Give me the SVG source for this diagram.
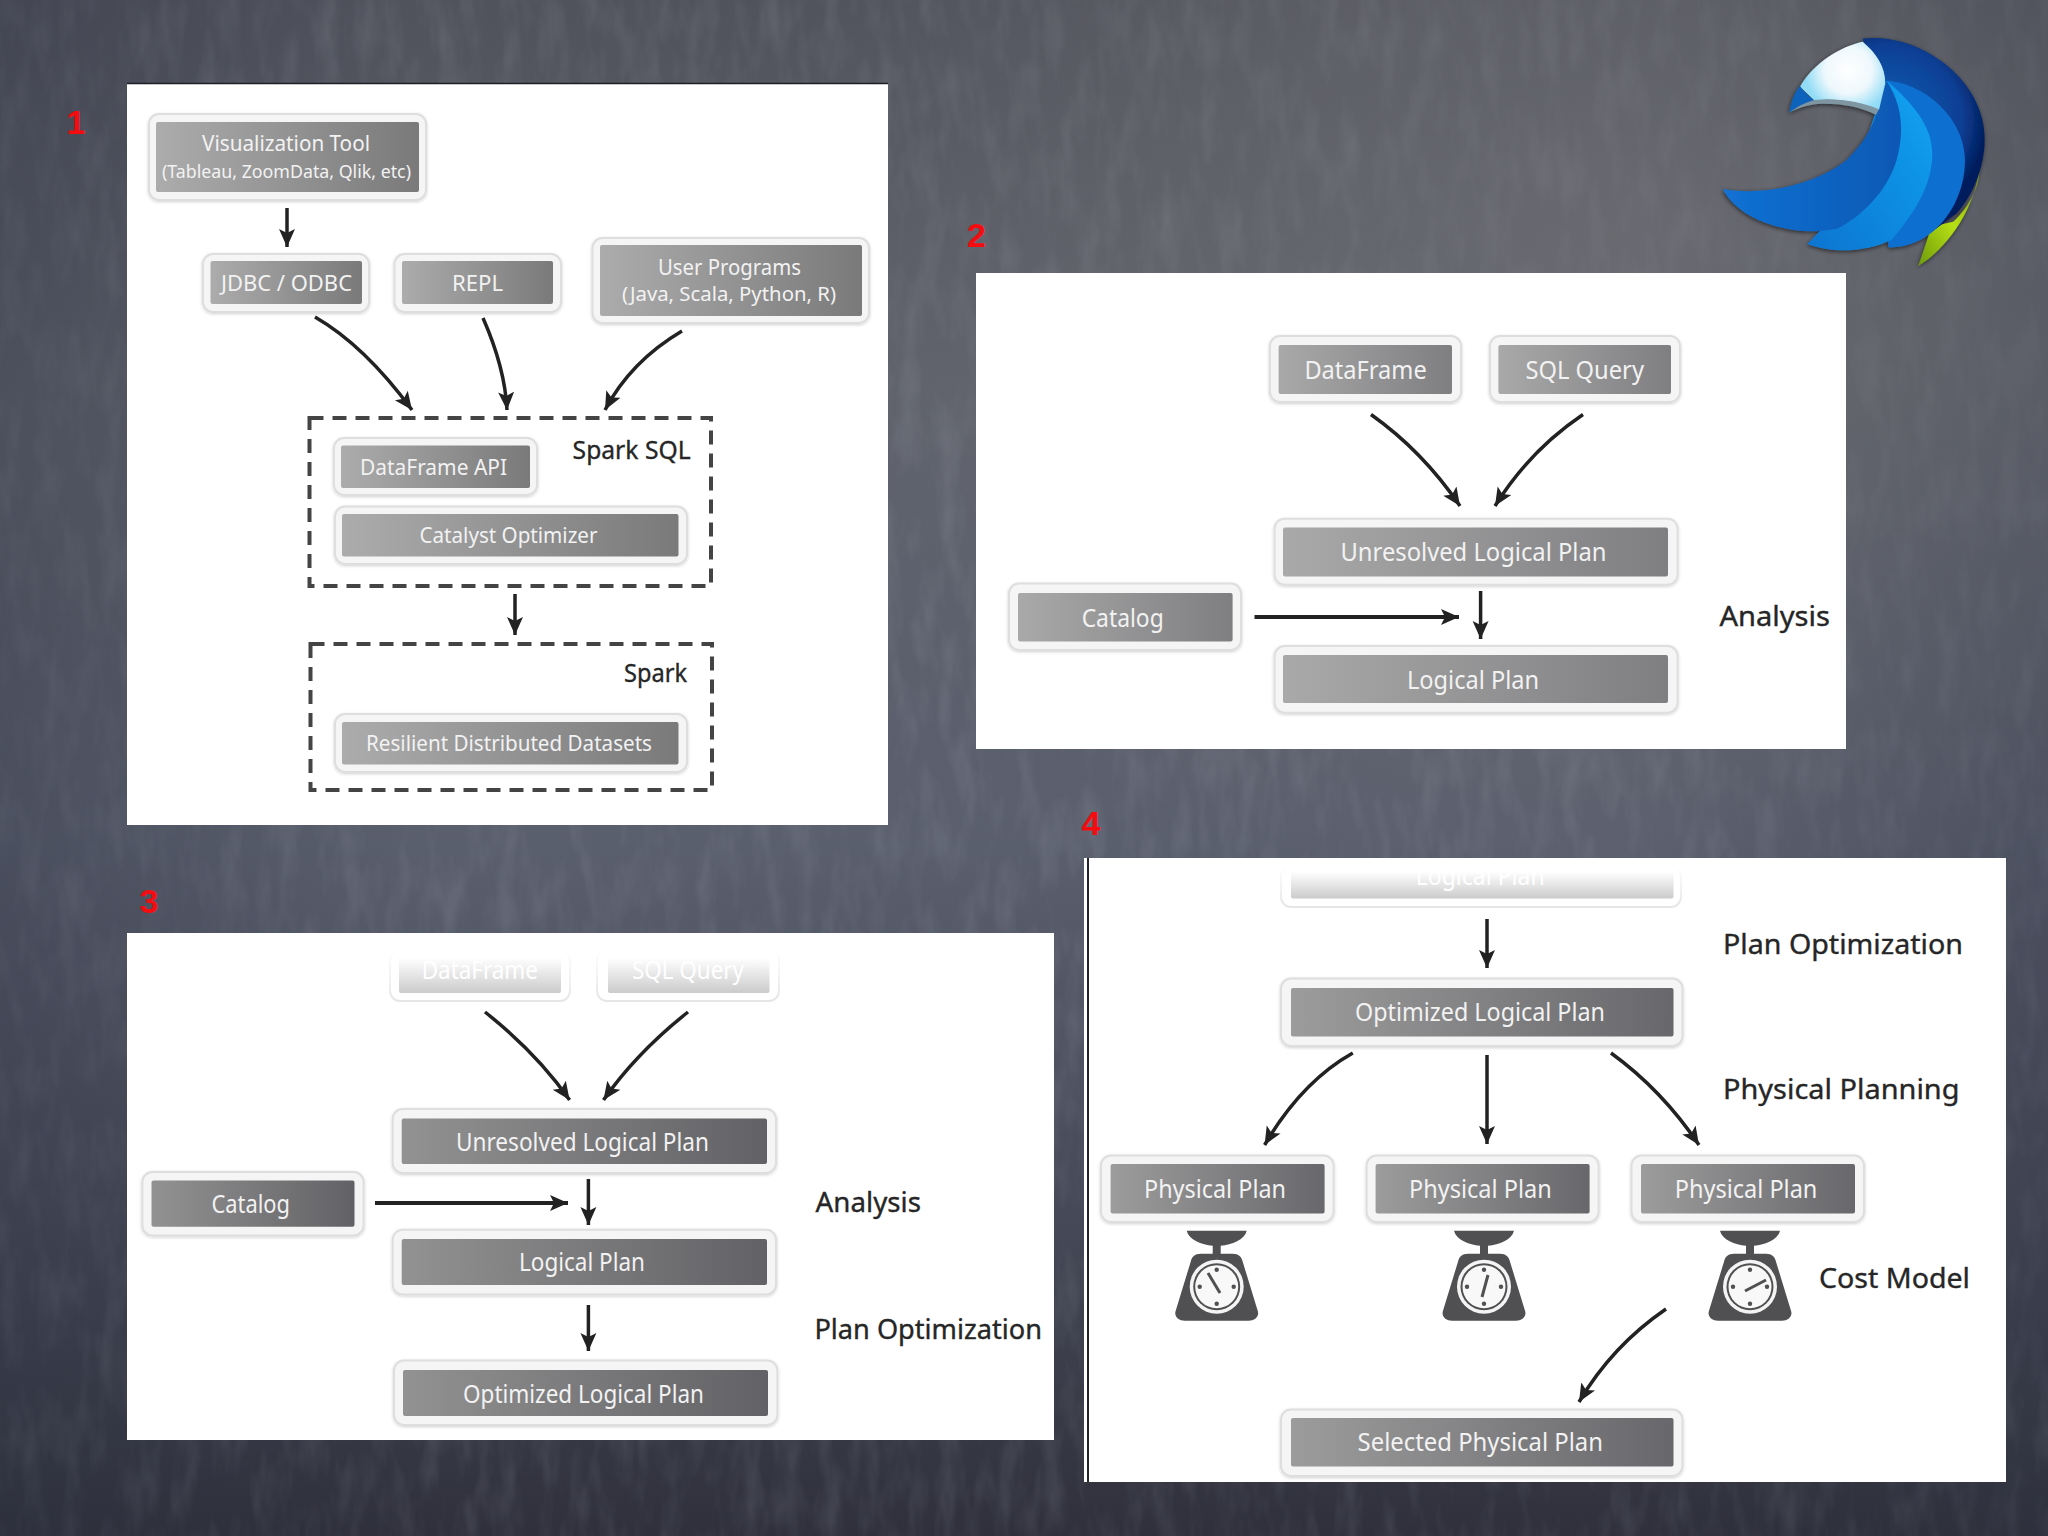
<svg xmlns="http://www.w3.org/2000/svg" xmlns:xlink="http://www.w3.org/1999/xlink" width="2048" height="1536" viewBox="0 0 2048 1536">
<style>
.o{fill:#f5f5f5;stroke:#dedede;stroke-width:2;filter:url(#soft)}
.i1{fill:url(#g1)}.i2{fill:url(#g2)}.i3{fill:url(#g3)}.i4{fill:url(#g4)}
.fo{fill:#fff;stroke:url(#fs);stroke-width:2}
.fi{fill:url(#ff)}
.t{font-family:"Noto Sans","DejaVu Sans",sans-serif;fill:#f2f2f2}
.ft{font-family:"Noto Sans","DejaVu Sans",sans-serif;fill:#fff}
.l{font-family:"Noto Sans","DejaVu Sans",sans-serif;fill:#262626;stroke:#262626;stroke-width:.35}
.n{font-family:"Liberation Sans",Arial,sans-serif;font-weight:700;font-size:34px;fill:#f40c10;text-anchor:middle}
.a{fill:none;stroke:#222;stroke-width:3.5;marker-end:url(#ah)}
.d{fill:none;stroke:#444;stroke-width:4;stroke-dasharray:14 9}
.p{fill:#fff}
</style>
<defs>
<linearGradient id="g1"><stop offset="0" stop-color="#acacac"/><stop offset="1" stop-color="#7a7a7b"/></linearGradient>
<linearGradient id="g2"><stop offset="0" stop-color="#a9a9a9"/><stop offset="1" stop-color="#7f7f82"/></linearGradient>
<linearGradient id="g3"><stop offset="0" stop-color="#929292"/><stop offset="1" stop-color="#626165"/></linearGradient>
<linearGradient id="g4"><stop offset="0" stop-color="#9c9c9c"/><stop offset="1" stop-color="#68686c"/></linearGradient>
<linearGradient id="ff" x2="0" y2="1"><stop offset=".12" stop-color="#fff"/><stop offset="1" stop-color="#cbcbcb"/></linearGradient>
<linearGradient id="fs" x2="0" y2="1"><stop offset="0" stop-color="#fff"/><stop offset="1" stop-color="#e6e6e6"/></linearGradient>
<linearGradient id="bgv" x2="0" y2="1"><stop offset="0" stop-color="#50525c"/><stop offset=".25" stop-color="#5e616b"/><stop offset=".55" stop-color="#5a5f6e"/><stop offset=".8" stop-color="#454856"/><stop offset="1" stop-color="#2f303b"/></linearGradient>
<linearGradient id="bgh"><stop offset="0" stop-color="#2b3040" stop-opacity=".35"/><stop offset=".2" stop-color="#2b3040" stop-opacity="0"/><stop offset=".8" stop-color="#2b3040" stop-opacity="0"/><stop offset="1" stop-color="#2b3040" stop-opacity=".3"/></linearGradient>
<radialGradient id="bgr" cx=".8" cy=".15" r=".45"><stop offset="0" stop-color="#77777a" stop-opacity=".55"/><stop offset="1" stop-color="#77777a" stop-opacity="0"/></radialGradient>
<filter id="chalk" x="0" y="0" width="100%" height="100%"><feTurbulence type="fractalNoise" baseFrequency="0.05 0.015" numOctaves="3" seed="7"/><feColorMatrix values="0 0 0 0 .62  0 0 0 0 .65  0 0 0 0 .72  1.2 0 0 0 -.5"/></filter>
<filter id="soft" x="-5%" y="-10%" width="110%" height="125%"><feDropShadow dx="0" dy="1" stdDeviation="1.5" flood-color="#000" flood-opacity=".18"/></filter>
<filter id="ls" x="-15%" y="-15%" width="130%" height="130%"><feDropShadow dx="-2" dy="4" stdDeviation="6" flood-color="#000" flood-opacity=".6"/></filter>
<marker id="ah" markerUnits="userSpaceOnUse" markerWidth="20" markerHeight="20" refX="18" refY="9" orient="auto"><path d="M0,1 L18,9 L0,17 L4,9 Z" fill="#222"/></marker>
<radialGradient id="lh" gradientUnits="userSpaceOnUse" cx="445" cy="150" r="130"><stop offset="0" stop-color="#fff"/><stop offset=".55" stop-color="#eef8fc"/><stop offset="1" stop-color="#92dcf6"/></radialGradient>
<radialGradient id="ld" gradientUnits="userSpaceOnUse" cx="560" cy="300" r="300"><stop offset="0" stop-color="#1a62b8"/><stop offset=".75" stop-color="#0a3f94"/><stop offset="1" stop-color="#031d5c"/></radialGradient>
<linearGradient id="lg" x1="1" y1="0" x2="0" y2="1"><stop offset="0" stop-color="#7fa40e"/><stop offset=".5" stop-color="#b7e012"/><stop offset="1" stop-color="#6e9a10"/></linearGradient>
<linearGradient id="l1" x1="0" y1="0" x2="1" y2="0"><stop offset="0" stop-color="#1272d4"/><stop offset="1" stop-color="#0b58b4"/></linearGradient>
<linearGradient id="l2" x1="1" y1="0" x2="0" y2="1"><stop offset="0" stop-color="#12a4f2"/><stop offset="1" stop-color="#0f74d0"/></linearGradient>
<symbol id="scale" overflow="visible" viewBox="-45 -60 90 100" width="90" height="100">
<path d="M-30,-56 L30,-56 C28,-47 15,-42 4,-41 L4,-33 L16,-33 C22,-33 25,-30 26,-25 L41,24 C43,30 38,34 32,34 L-32,34 C-38,34 -43,30 -41,24 L-26,-25 C-25,-30 -22,-33 -16,-33 L-4,-33 L-4,-41 C-15,-42 -28,-47 -30,-56 Z" fill="#505052"/>
<circle r="27" fill="#f4f4f4"/><circle r="23.5" fill="#505052"/><circle r="21.5" fill="#f8f8f8"/>
<g fill="#505052"><circle cy="-17" r="2.2"/><circle cy="17" r="2.2"/><circle cx="-17" r="2.2"/><circle cx="17" r="2.2"/></g>
</symbol>
</defs>

<g id="background">
<rect width="2048" height="1536" fill="url(#bgv)"/>
<rect width="2048" height="1536" filter="url(#chalk)" opacity=".2"/>
<rect width="2048" height="1536" fill="url(#bgh)"/>
<rect width="2048" height="1536" fill="url(#bgr)"/>
</g>

<g id="panels">
<rect class="p" x="127" y="84" width="761" height="741"/>
<path d="M127,83.5H888" stroke="#1d1f28" stroke-width="1.5"/>
<rect class="p" x="976" y="273" width="870" height="476"/>
<rect class="p" x="127" y="933" width="927" height="507"/>
<rect class="p" x="1089" y="858" width="917" height="624"/>
<rect x="1084" y="858" width="3" height="624" fill="#fff"/>
<rect x="1087" y="858" width="2" height="624" fill="#23252c"/>
</g>

<g id="logo" transform="translate(1700,20) scale(.3333)" filter="url(#ls)">
<path d="M838,455 C835,510 800,570 760,605 L695,620 L655,738 C710,705 810,610 838,455 Z" fill="url(#lg)"/>
<path d="M488,56 C650,36 854,170 854,360 C854,445 815,530 770,580 L690,640 L560,300 Z" fill="url(#ld)"/>
<path d="M560,182 C680,190 795,300 795,420 C795,520 745,600 692,640 C650,672 605,684 565,682 L560,300 Z" fill="#0f6fd0"/>
<path d="M560,182 C640,250 697,320 697,400 C697,510 625,600 575,660 C500,695 400,702 322,672 L430,560 Z" fill="url(#l2)"/>
<path d="M68,507 C200,530 350,490 440,420 C490,370 520,320 530,275 L560,182 C610,260 612,340 590,420 C560,520 480,590 415,625 C300,655 120,610 68,507 Z" fill="url(#l1)"/>
<path d="M488,65 C530,100 556,140 556,190 L537,270 C480,245 400,233 345,243 L300,200 C340,130 420,80 488,65 Z" fill="url(#lh)"/>
<path d="M300,198 C312,216 330,234 347,243 C320,248 290,262 268,278 C272,250 282,218 300,198 Z" fill="#0f62bc"/>
<path d="M345,240 C400,233 480,243 537,268 L528,284 C470,256 400,248 345,253 C320,256 290,266 268,278 C290,260 320,246 345,240 Z" fill="#7f96a2"/>
</g>

<g id="numbers">
<text class="n" x="76" y="134">1</text>
<text class="n" x="976.5" y="247">2</text>
<text class="n" x="149" y="913">3</text>
<text class="n" x="1091" y="835">4</text>
</g>

<g id="connectors">
<path class="a" d="M287,208V247"/>
<path class="a" d="M315,317Q364.5,345.5 412,410"/>
<path class="a" d="M483,318Q505,368 507,410"/>
<path class="a" d="M682,331Q630.5,361.5 605,410"/>
<path class="a" d="M515,594V635"/>
<path class="a" d="M1371,414.5Q1422.5,451 1460,506"/>
<path class="a" d="M1583,414.5Q1529,451 1495,506"/>
<path class="a" style="stroke-width:4" d="M1254.5,617H1459"/>
<path class="a" d="M1480.6,591V639"/>
<path class="a" d="M485,1012Q536.7,1053 569.6,1100"/>
<path class="a" d="M688,1012Q636.3,1053 603.5,1100"/>
<path class="a" style="stroke-width:4" d="M375,1203H568"/>
<path class="a" d="M588.4,1179V1225"/>
<path class="a" d="M588.4,1305V1351"/>
<path class="a" d="M1487,919V968"/>
<path class="a" d="M1487,1055V1144"/>
<path class="a" d="M1352.8,1053Q1301.3,1082 1264.6,1145"/>
<path class="a" d="M1611,1053Q1662,1090 1699,1145"/>
<path class="a" d="M1666,1309Q1612,1346 1579,1402"/>
</g>

<g id="spark-sql-frame"><rect class="d" x="309.5" y="418" width="401.5" height="168"/><text class="l" x="572.6" y="459" font-size="25" textLength="118" lengthAdjust="spacingAndGlyphs">Spark SQL</text></g>
<g id="spark-frame"><rect class="d" x="310.5" y="644" width="401.5" height="146"/><text class="l" x="624" y="682" font-size="25" textLength="63" lengthAdjust="spacingAndGlyphs">Spark</text></g>

<g id="n-viz"><rect class="o" x="149" y="114" width="277" height="86" rx="10"/><rect class="i1" x="156" y="122" width="263" height="70" rx="2"/><text class="t" x="202" y="151" font-size="22" textLength="168" lengthAdjust="spacingAndGlyphs">Visualization Tool</text><text class="t" x="162" y="177.5" font-size="18.5" textLength="249" lengthAdjust="spacingAndGlyphs">(Tableau, ZoomData, Qlik, etc)</text></g>
<g id="n-jdbc"><rect class="o" x="203" y="254" width="166" height="58" rx="10"/><rect class="i1" x="210.5" y="261" width="151.5" height="43" rx="2"/><text class="t" x="221" y="291" font-size="22" textLength="131" lengthAdjust="spacingAndGlyphs">JDBC / ODBC</text></g>
<g id="n-repl"><rect class="o" x="394.5" y="254" width="166.5" height="58" rx="10"/><rect class="i1" x="402" y="261" width="151" height="43" rx="2"/><text class="t" x="452" y="291" font-size="22" textLength="51" lengthAdjust="spacingAndGlyphs">REPL</text></g>
<g id="n-user"><rect class="o" x="592.5" y="238" width="276.5" height="85" rx="10"/><rect class="i1" x="600" y="245" width="262" height="71" rx="2"/><text class="t" x="658" y="275" font-size="22" textLength="143" lengthAdjust="spacingAndGlyphs">User Programs</text><text class="t" x="622" y="301" font-size="19.5" textLength="214" lengthAdjust="spacingAndGlyphs">(Java, Scala, Python, R)</text></g>
<g id="n-dfapi"><rect class="o" x="334" y="438" width="203" height="57" rx="10"/><rect class="i1" x="341" y="445.5" width="189" height="42.5" rx="2"/><text class="t" x="360" y="474.5" font-size="22" textLength="147" lengthAdjust="spacingAndGlyphs">DataFrame API</text></g>
<g id="n-catalyst"><rect class="o" x="335" y="506.5" width="352" height="57.5" rx="10"/><rect class="i1" x="342" y="514" width="336.5" height="42.5" rx="2"/><text class="t" x="419.5" y="543" font-size="22" textLength="178" lengthAdjust="spacingAndGlyphs">Catalyst Optimizer</text></g>
<g id="n-rdd"><rect class="o" x="335" y="714" width="352" height="58" rx="10"/><rect class="i1" x="342" y="722" width="336.5" height="42.5" rx="2"/><text class="t" x="366" y="751" font-size="22" textLength="286" lengthAdjust="spacingAndGlyphs">Resilient Distributed Datasets</text></g>

<g id="n2-dataframe"><rect class="o" x="1270" y="336" width="191" height="66" rx="10"/><rect class="i2" x="1278.6" y="345" width="173.4" height="49" rx="2"/><text class="t" x="1304.4" y="379.4" font-size="26" textLength="122.3" lengthAdjust="spacingAndGlyphs">DataFrame</text></g>
<g id="n2-sql"><rect class="o" x="1490" y="336" width="190" height="66" rx="10"/><rect class="i2" x="1498.4" y="345" width="172.6" height="49" rx="2"/><text class="t" x="1525.4" y="379.4" font-size="26" textLength="118.6" lengthAdjust="spacingAndGlyphs">SQL Query</text></g>
<g id="n2-unresolved"><rect class="o" x="1274.6" y="518.7" width="403" height="66" rx="10"/><rect class="i2" x="1283" y="527.5" width="385" height="49" rx="2"/><text class="t" x="1340.5" y="560.8" font-size="26" textLength="266" lengthAdjust="spacingAndGlyphs">Unresolved Logical Plan</text></g>
<g id="n2-catalog"><rect class="o" x="1009" y="583.6" width="232" height="66.4" rx="10"/><rect class="i2" x="1018" y="593" width="214.6" height="48.5" rx="2"/><text class="t" x="1081.7" y="626.8" font-size="26" textLength="82" lengthAdjust="spacingAndGlyphs">Catalog</text></g>
<g id="n2-logical"><rect class="o" x="1274.6" y="646" width="403" height="66.7" rx="10"/><rect class="i2" x="1283" y="655" width="385" height="48" rx="2"/><text class="t" x="1407" y="689" font-size="26" textLength="132" lengthAdjust="spacingAndGlyphs">Logical Plan</text></g>
<text id="l2-analysis" class="l" x="1719.4" y="625.7" font-size="28" textLength="110.6" lengthAdjust="spacingAndGlyphs">Analysis</text>

<g id="n3-dataframe"><rect class="fo" x="390" y="950" width="180" height="51" rx="10"/><rect class="fi" x="399" y="953" width="162" height="40" rx="2"/><text class="ft" x="421.7" y="979" font-size="25" textLength="116.3" lengthAdjust="spacingAndGlyphs">DataFrame</text></g>
<g id="n3-sql"><rect class="fo" x="597" y="950" width="182" height="51" rx="10"/><rect class="fi" x="608" y="953" width="161.5" height="40" rx="2"/><text class="ft" x="632" y="979" font-size="25" textLength="112" lengthAdjust="spacingAndGlyphs">SQL Query</text></g>
<g id="n3-unresolved"><rect class="o" x="392.7" y="1109" width="383.3" height="64" rx="10"/><rect class="i3" x="401.7" y="1118.5" width="365.3" height="45.5" rx="2"/><text class="t" x="456" y="1151" font-size="25" textLength="253" lengthAdjust="spacingAndGlyphs">Unresolved Logical Plan</text></g>
<g id="n3-catalog"><rect class="o" x="142.4" y="1172" width="221.2" height="63.5" rx="10"/><rect class="i3" x="151.5" y="1180.6" width="203" height="46.2" rx="2"/><text class="t" x="211.5" y="1212.6" font-size="25" textLength="78.5" lengthAdjust="spacingAndGlyphs">Catalog</text></g>
<g id="n3-logical"><rect class="o" x="392.7" y="1229.7" width="383.3" height="64.7" rx="10"/><rect class="i3" x="401.7" y="1239" width="365.3" height="46" rx="2"/><text class="t" x="519" y="1271" font-size="25" textLength="126" lengthAdjust="spacingAndGlyphs">Logical Plan</text></g>
<g id="n3-optimized"><rect class="o" x="394" y="1360.6" width="383.4" height="64.4" rx="10"/><rect class="i3" x="403" y="1370" width="365" height="46" rx="2"/><text class="t" x="463" y="1403" font-size="25" textLength="241" lengthAdjust="spacingAndGlyphs">Optimized Logical Plan</text></g>
<text id="l3-analysis" class="l" x="815.6" y="1211.5" font-size="27" textLength="105.4" lengthAdjust="spacingAndGlyphs">Analysis</text>
<text id="l3-plan" class="l" x="814.4" y="1338.7" font-size="27" textLength="227.6" lengthAdjust="spacingAndGlyphs">Plan Optimization</text>

<g id="n4-logical"><rect class="fo" x="1281" y="866" width="400" height="41" rx="10"/><rect class="fi" x="1291" y="868" width="382.5" height="30.5" rx="2"/><text class="ft" x="1415.7" y="885" font-size="25" textLength="129" lengthAdjust="spacingAndGlyphs">Logical Plan</text></g>
<g id="n4-optimized"><rect class="o" x="1281" y="978.5" width="401.5" height="67.5" rx="10"/><rect class="i4" x="1291" y="988" width="382.5" height="48.5" rx="2"/><text class="t" x="1355" y="1021" font-size="25" textLength="250" lengthAdjust="spacingAndGlyphs">Optimized Logical Plan</text></g>
<g id="n4-phys1"><rect class="o" x="1101" y="1155.5" width="232.6" height="66.5" rx="10"/><rect class="i4" x="1110.6" y="1164" width="214" height="49.5" rx="2"/><text class="t" x="1144" y="1198" font-size="25" textLength="142" lengthAdjust="spacingAndGlyphs">Physical Plan</text></g>
<g id="n4-phys2"><rect class="o" x="1366.6" y="1155.5" width="232" height="66.5" rx="10"/><rect class="i4" x="1375.6" y="1164" width="214" height="49.5" rx="2"/><text class="t" x="1409" y="1198" font-size="25" textLength="142.7" lengthAdjust="spacingAndGlyphs">Physical Plan</text></g>
<g id="n4-phys3"><rect class="o" x="1631.5" y="1155.5" width="232.5" height="66.5" rx="10"/><rect class="i4" x="1641" y="1164" width="214" height="49.5" rx="2"/><text class="t" x="1674.7" y="1198" font-size="25" textLength="142.7" lengthAdjust="spacingAndGlyphs">Physical Plan</text></g>
<g id="n4-selected"><rect class="o" x="1281" y="1409.6" width="401.5" height="66.4" rx="10"/><rect class="i4" x="1291" y="1418" width="382.5" height="48.4" rx="2"/><text class="t" x="1357.6" y="1451" font-size="25" textLength="245.4" lengthAdjust="spacingAndGlyphs">Selected Physical Plan</text></g>
<g id="scale1"><use xlink:href="#scale" href="#scale" x="1171.7" y="1226.7"/><path d="M1220,1293L1208,1273" stroke="#505052" stroke-width="3" fill="none"/></g>
<g id="scale2"><use xlink:href="#scale" href="#scale" x="1439" y="1226.7"/><path d="M1482,1297L1488,1275" stroke="#505052" stroke-width="3" fill="none"/></g>
<g id="scale3"><use xlink:href="#scale" href="#scale" x="1705" y="1226.7"/><path d="M1745,1291L1766,1280" stroke="#505052" stroke-width="3" fill="none"/></g>
<text id="l4-plan" class="l" x="1723" y="953.6" font-size="28" textLength="240" lengthAdjust="spacingAndGlyphs">Plan Optimization</text>
<text id="l4-phys" class="l" x="1723" y="1098.7" font-size="28" textLength="236.5" lengthAdjust="spacingAndGlyphs">Physical Planning</text>
<text id="l4-cost" class="l" x="1819" y="1288" font-size="28" textLength="151" lengthAdjust="spacingAndGlyphs">Cost Model</text>
</svg>
